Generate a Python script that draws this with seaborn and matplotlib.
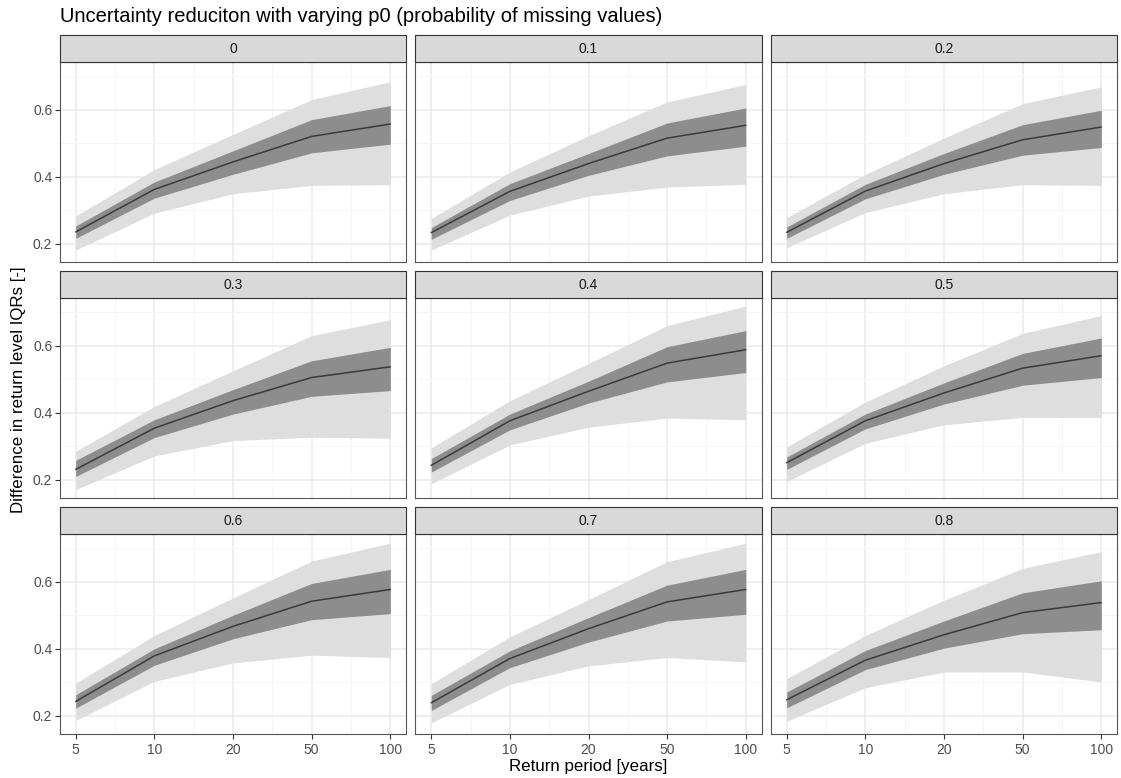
import numpy as np
import pandas as pd
import matplotlib
matplotlib.use("Agg")
import matplotlib.pyplot as plt
import seaborn as sns
from matplotlib.patches import Rectangle
from matplotlib.ticker import FixedLocator

# ---------------- data ----------------
p0_levels = ["0", "0.1", "0.2", "0.3", "0.4", "0.5", "0.6", "0.7", "0.8"]
return_periods = [5, 10, 20, 50, 100]

outer_lo = [
    [0.181, 0.291, 0.349, 0.374, 0.376],
    [0.181, 0.285, 0.342, 0.369, 0.377],
    [0.188, 0.293, 0.349, 0.376, 0.374],
    [0.171, 0.271, 0.317, 0.327, 0.324],
    [0.188, 0.304, 0.357, 0.384, 0.379],
    [0.195, 0.309, 0.364, 0.386, 0.386],
    [0.186, 0.303, 0.358, 0.381, 0.374],
    [0.179, 0.294, 0.349, 0.374, 0.361],
    [0.184, 0.284, 0.331, 0.331, 0.301],
]
inner_lo = [
    [0.216, 0.336, 0.407, 0.471, 0.497],
    [0.213, 0.329, 0.404, 0.462, 0.491],
    [0.216, 0.334, 0.407, 0.464, 0.487],
    [0.210, 0.326, 0.396, 0.449, 0.466],
    [0.223, 0.349, 0.429, 0.492, 0.520],
    [0.231, 0.352, 0.426, 0.482, 0.505],
    [0.223, 0.351, 0.430, 0.487, 0.505],
    [0.216, 0.344, 0.420, 0.483, 0.503],
    [0.224, 0.338, 0.402, 0.445, 0.457],
]
median = [
    [0.235, 0.362, 0.444, 0.520, 0.557],
    [0.233, 0.356, 0.439, 0.515, 0.553],
    [0.234, 0.357, 0.439, 0.510, 0.548],
    [0.231, 0.354, 0.436, 0.505, 0.537],
    [0.243, 0.376, 0.464, 0.548, 0.588],
    [0.251, 0.376, 0.459, 0.533, 0.570],
    [0.243, 0.379, 0.467, 0.542, 0.577],
    [0.239, 0.371, 0.460, 0.540, 0.577],
    [0.248, 0.366, 0.442, 0.508, 0.538],
]
inner_hi = [
    [0.253, 0.384, 0.477, 0.570, 0.612],
    [0.248, 0.379, 0.469, 0.560, 0.605],
    [0.250, 0.377, 0.469, 0.555, 0.598],
    [0.258, 0.379, 0.469, 0.555, 0.595],
    [0.263, 0.396, 0.494, 0.597, 0.645],
    [0.268, 0.396, 0.489, 0.577, 0.623],
    [0.263, 0.400, 0.500, 0.595, 0.637],
    [0.261, 0.394, 0.493, 0.590, 0.637],
    [0.271, 0.395, 0.483, 0.567, 0.603],
]
outer_hi = [
    [0.283, 0.421, 0.526, 0.630, 0.683],
    [0.275, 0.414, 0.522, 0.623, 0.675],
    [0.278, 0.407, 0.515, 0.618, 0.668],
    [0.285, 0.419, 0.525, 0.630, 0.677],
    [0.295, 0.436, 0.547, 0.660, 0.718],
    [0.298, 0.432, 0.540, 0.637, 0.690],
    [0.298, 0.440, 0.552, 0.662, 0.715],
    [0.296, 0.436, 0.547, 0.660, 0.715],
    [0.311, 0.440, 0.545, 0.640, 0.690],
]

title_text = "Uncertainty reduciton with varying p0 (probability of missing values)"
x_label = "Return period [years]"
y_label = "Difference in return level IQRs [-]"

rows = []
for i, p in enumerate(p0_levels):
    for j, rp in enumerate(return_periods):
        rows.append(dict(p0=p, rp=rp, pos=j,
                         outer_lo=outer_lo[i][j], inner_lo=inner_lo[i][j],
                         median=median[i][j], inner_hi=inner_hi[i][j],
                         outer_hi=outer_hi[i][j]))
df = pd.DataFrame(rows)

# ---------------- style ----------------
sns.set_style("white")
plt.rcParams['font.family'] = ['Liberation Sans', 'DejaVu Sans']

W, H = 1121, 778
g = sns.FacetGrid(df, col="p0", col_order=p0_levels, col_wrap=3,
                  height=2.0, aspect=1.73, sharex=True, sharey=True,
                  despine=False)


def draw(data, **kw):
    ax = plt.gca()
    ax.fill_between(data["pos"], data["outer_lo"], data["outer_hi"],
                    color="#DEDEDE", lw=0, zorder=2)
    ax.fill_between(data["pos"], data["inner_lo"], data["inner_hi"],
                    color="#8D8D8D", lw=0, zorder=3)
    sns.lineplot(data=data, x="pos", y="median", color="#3A3A3A",
                 lw=1.1, ax=ax, zorder=4, estimator=None)


g.map_dataframe(draw)
g.set_titles(template="")
g.set_axis_labels("", "")

fig = g.figure
fig.set_size_inches(W / 100, H / 100)
fig.set_dpi(100)
panel_h = 200.4
fig.subplots_adjust(left=60 / W, right=1117 / W, top=1 - 62 / H,
                    bottom=1 - 734.3 / H, wspace=0.0274, hspace=36 / panel_h)

strip_h = 27 / panel_h
for k, ax in enumerate(g.axes.flat):
    r, c = divmod(k, 3)
    ax.set_xlim(-0.2, 4.2)
    ax.set_ylim(0.145, 0.742)
    ax.set_xticks(range(len(return_periods)))
    ax.set_xticklabels([str(v) for v in return_periods])
    ax.set_yticks([0.2, 0.4, 0.6])
    ax.set_yticklabels(["0.2", "0.4", "0.6"])
    ax.xaxis.set_minor_locator(FixedLocator([0.5, 1.5, 2.5, 3.5]))
    ax.yaxis.set_minor_locator(FixedLocator([0.3, 0.5, 0.7]))
    ax.set_axisbelow(True)
    ax.grid(True, which="major", color="#EBEBEB", lw=1.1, zorder=0)
    ax.grid(True, which="minor", color="#F4F4F4", lw=0.6, zorder=0)
    ax.tick_params(which="minor", length=0)
    ax.tick_params(which="major", length=3.5, width=0.8, color="#333333",
                   labelcolor="#4D4D4D", labelsize=10, pad=2)
    ax.tick_params(axis="x", pad=3)
    for s in ax.spines.values():
        s.set_color("#555555")
        s.set_linewidth(0.8)
        s.set_visible(True)
    if r < 2:
        ax.tick_params(axis="x", bottom=False, labelbottom=False)
    else:
        ax.tick_params(axis="x", bottom=True, labelbottom=True)
    if c > 0:
        ax.tick_params(axis="y", left=False, labelleft=False)
    else:
        ax.tick_params(axis="y", left=True, labelleft=True)
    ax.set_xlabel("")
    ax.set_ylabel("")
    ax.set_title("")
    rect = Rectangle((0, 1), 1, strip_h, transform=ax.transAxes,
                     clip_on=False, facecolor="#D9D9D9", edgecolor="#333333",
                     lw=0.8, zorder=5)
    ax.add_patch(rect)
    ax.text(0.5, 1 + strip_h / 2, p0_levels[k], transform=ax.transAxes,
            ha="center", va="center", fontsize=10, color="#1A1A1A", zorder=6)

fig.text(60 / W, 1 - 16 / H, title_text, ha="left", va="center",
         fontsize=14.5, color="black")
fig.text(588 / W, 1 - 767 / H, x_label, ha="center", va="center",
         fontsize=12.2, color="black")
fig.text(19 / W, 1 - 390 / H, y_label, ha="center", va="center",
         rotation=90, fontsize=12.2, color="black")

fig.savefig("out.png", dpi=100)
